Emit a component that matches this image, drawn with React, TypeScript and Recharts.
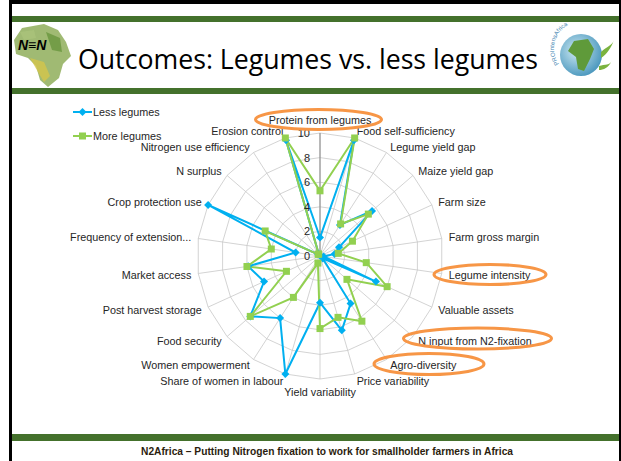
import { PolarAngleAxis, PolarGrid, PolarRadiusAxis, Radar, RadarChart } from 'recharts';

const categories = [
  'Protein from legumes',
  'Food self-sufficiency',
  'Legume yield gap',
  'Maize yield gap',
  'Farm size',
  'Farm gross margin',
  'Legume intensity',
  'Valuable assets',
  'N input from N2-fixation',
  'Agro-diversity',
  'Price variability',
  'Yield variability',
  'Share of women in labour',
  'Women empowerment',
  'Food security',
  'Post harvest storage',
  'Market access',
  'Frequency of extension...',
  'Crop protection use',
  'N surplus',
  'Nitrogen use efficiency',
  'Erosion control',
];

const lessLegumes = [1.5, 9.8, 3.0, 5.6, 1.7, 1.2, 0.3, 5.0, 0.3, 4.6, 6.3, 3.8, 10.0, 6.0, 7.5, 5.0, 5.9, 2.0, 10.0, 0.2, 0.2, 9.8];
const moreLegumes = [5.3, 10.0, 3.1, 5.2, 2.9, 1.5, 3.8, 6.0, 2.9, 6.3, 5.2, 5.9, 0.6, 4.0, 7.5, 3.0, 6.0, 4.0, 4.9, 0.2, 0.2, 10.0];
const radiusTicks = [0, 2, 4, 6, 8, 10];

const data = categories.map((name, i) => ({ name, less: lessLegumes[i], more: moreLegumes[i] }));

const CX = 320;
const CY = 256;
const R = 123;
const BLUE = '#00b0f0';
const GREEN = '#92d050';
const BAR = '#44712c';
const ORANGE = '#f79646';
const FONT = '"Liberation Sans", Arial, sans-serif';

const AngleTick = ({ payload }: any) => {
  const a = (payload.coordinate * Math.PI) / 180;
  const cos = Math.cos(a);
  const sin = Math.sin(a);
  const r = R + 7;
  const x = CX + r * cos;
  let y = CY - r * sin;
  const anchor = Math.abs(cos) < 0.05 ? 'middle' : cos > 0 ? 'start' : 'end';
  if (sin > 0.99) y -= 6;
  else if (sin < -0.99) y += 6;
  return (
    <text x={x} y={y} textAnchor={anchor} dominantBaseline="central" fontSize={10.8} fontFamily={FONT} fill="#262626">
      {payload.value}
    </text>
  );
};

const RadiusTick = ({ x, y, payload }: any) => (
  <text x={x - 10} y={y} textAnchor="end" dominantBaseline="central" fontSize={11} fontFamily={FONT} fill="#262626">
    {payload.value}
  </text>
);

const diamond = (p: any) => (
  <path
    key={`d-${p.index}`}
    d={`M${p.cx},${p.cy - 4}L${p.cx + 4},${p.cy}L${p.cx},${p.cy + 4}L${p.cx - 4},${p.cy}Z`}
    fill={BLUE}
  />
);

const square = (p: any) => (
  <rect key={`s-${p.index}`} x={p.cx - 3.5} y={p.cy - 3.5} width={7} height={7} fill={GREEN} />
);

export default function App() {
  return (
    <div style={{ position: 'fixed', left: 0, top: 0, width: 621, height: 461, background: '#fff', overflow: 'hidden' }}>
      {/* slide frame, bars, title, logos */}
      <svg width={621} height={461} style={{ position: 'absolute', left: 0, top: 0 }}>
        <rect x={9} y={0} width={612} height={4} fill="#000" />
        <rect x={9} y={0} width={3} height={461} fill="#000" />
        <rect x={619} y={0} width={2} height={461} fill="#000" />
        <rect x={12} y={16} width={607} height={6} fill={BAR} />
        <rect x={12} y={88} width={607} height={6} fill={BAR} />
        <rect x={12} y={434} width={607} height={7} fill={BAR} />

        {/* left logo */}
        <path
          d="M22,28 L44,24 L58,30 L66,42 L71,56 L63,64 L59,78 L48,87 L40,80 L36,66 L28,58 L16,54 L14,40 Z"
          fill="#8fae5a"
          opacity={0.85}
        />
        <path d="M30,58 L44,62 L50,76 L44,82 L38,72 Z" fill="#d4c64a" opacity={0.8} />
        <path d="M46,32 L60,38 L62,52 L52,50 Z" fill="#6f9a44" opacity={0.9} />
        <path d="M20,32 L34,30 L36,38 L24,40 Z" fill="#a9c27a" opacity={0.9} />
        <text x={18} y={50} fontSize={14} fontWeight="bold" fontStyle="italic" fontFamily={FONT} fill="#000">
          N≡N
        </text>

        {/* title */}
        <text
          x={78}
          y={69}
          fontSize={26.5}
          fontFamily='"Open Sans", "Liberation Sans", sans-serif'
          fill="#000"
          textLength={460}
          lengthAdjust="spacingAndGlyphs"
        >
          Outcomes: Legumes vs. less legumes
        </text>

        {/* right logo */}
        <defs>
          <radialGradient id="globe" cx="40%" cy="40%" r="70%">
            <stop offset="0%" stopColor="#cfeaf3" />
            <stop offset="100%" stopColor="#3d8fb8" />
          </radialGradient>
          <path id="arc" d="M559,64 A24,24 0 0 1 603,33" />
        </defs>
        <circle cx={581} cy={55} r={21} fill="url(#globe)" />
        <path d="M574,41 L588,39 L594,49 L590,59 L584,71 L578,69 L576,57 L568,51 Z" fill="#5f9a3a" />
        <path d="M601,52 C607,46 612,46 614,40 C611,48 607,54 601,58 Z" fill="#7bb33f" />
        <path d="M599,66 C605,64 610,66 612,60 C609,68 603,70 599,70 Z" fill="#7bb33f" />
        <text fontSize={6} fontFamily={FONT} fill="#3d7fb0">
          <textPath href="#arc">PROIntensAfrica</textPath>
        </text>

        {/* footer */}
        <text
          x={327}
          y={455}
          textAnchor="middle"
          fontSize={10}
          fontWeight="bold"
          fontFamily={FONT}
          fill="#2b1d0e"
          textLength={372}
          lengthAdjust="spacingAndGlyphs"
        >
          N2Africa – Putting Nitrogen fixation to work for smallholder farmers in Africa
        </text>
      </svg>

      <RadarChart
        width={621}
        height={461}
        cx={CX}
        cy={CY}
        outerRadius={R}
        data={data}
        margin={{ top: 0, right: 0, bottom: 0, left: 0 }}
        style={{ position: 'absolute', left: 0, top: 0 }}
      >
        <PolarGrid gridType="polygon" stroke="#c8c8c8" strokeWidth={0.8} />
        <PolarAngleAxis dataKey="name" tick={AngleTick} tickLine={false} axisLine={false} />
        <PolarRadiusAxis
          angle={90}
          domain={[0, 10]}
          ticks={radiusTicks}
          tickCount={6}
          tick={RadiusTick}
          tickLine={false}
          axisLine={{ stroke: '#868686', strokeWidth: 1 }}
        />
        <Radar
          name="Less legumes"
          dataKey="less"
          stroke={BLUE}
          strokeWidth={2}
          fill="none"
          fillOpacity={0}
          dot={diamond}
          isAnimationActive={false}
        />
        <Radar
          name="More legumes"
          dataKey="more"
          stroke={GREEN}
          strokeWidth={2}
          fill="none"
          fillOpacity={0}
          dot={square}
          isAnimationActive={false}
        />
      </RadarChart>

      {/* legend and highlight ellipses */}
      <svg width={621} height={461} style={{ position: 'absolute', left: 0, top: 0, pointerEvents: 'none' }}>
        <line x1={73} y1={112} x2={92} y2={112} stroke={BLUE} strokeWidth={2} />
        <path d="M82.5,108L86.5,112L82.5,116L78.5,112Z" fill={BLUE} />
        <text x={93} y={112} dominantBaseline="central" fontSize={10.8} fontFamily={FONT} fill="#262626">
          Less legumes
        </text>
        <line x1={73} y1={136} x2={92} y2={136} stroke={GREEN} strokeWidth={2} />
        <rect x={79} y={132.5} width={7} height={7} fill={GREEN} />
        <text x={93} y={136} dominantBaseline="central" fontSize={10.8} fontFamily={FONT} fill="#262626">
          More legumes
        </text>

        <ellipse cx={318.5} cy={119.5} rx={63} ry={10} fill="none" stroke={ORANGE} strokeWidth={3} />
        <ellipse cx={490} cy={274.5} rx={56} ry={10} fill="none" stroke={ORANGE} strokeWidth={3} />
        <ellipse cx={477.5} cy={338.5} rx={74} ry={10.5} fill="none" stroke={ORANGE} strokeWidth={3} />
        <ellipse cx={429} cy={364} rx={55} ry={10.5} fill="none" stroke={ORANGE} strokeWidth={3} />
      </svg>
    </div>
  );
}
